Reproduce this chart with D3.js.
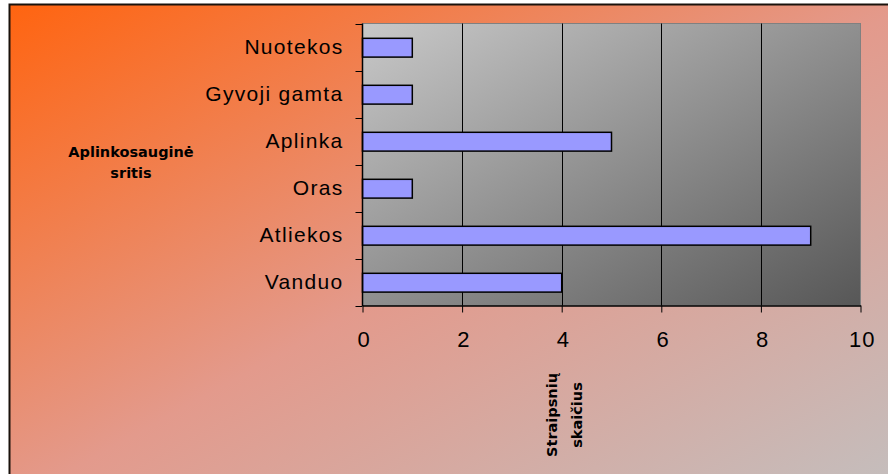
<!DOCTYPE html>
<html>
<head>
<meta charset="utf-8">
<title>Aplinkosauginė sritis</title>
<script src="https://d3js.org/d3.v7.min.js"></script>
<style>
  body { margin: 0; background: #fff; }
  svg { display: block; }
  .cat text { font-family: "Liberation Sans", Arial, sans-serif; font-size: 21px; letter-spacing: 1.3px; fill: #000; }
  .xaxis text { font-family: "Liberation Sans", Arial, sans-serif; font-size: 22px; letter-spacing: 1.2px; fill: #000; }
  .title { font-family: "DejaVu Sans", Verdana, sans-serif; font-size: 14.5px; font-weight: bold; fill: #000; }
</style>
</head>
<body>
<svg id="chart" width="888" height="474"></svg>
<script>
// data
var categories = ["Nuotekos", "Gyvoji gamta", "Aplinka", "Oras", "Atliekos", "Vanduo"];
var values = [1, 1, 5, 1, 9, 4];
var xTicks = [0, 2, 4, 6, 8, 10];
var yTitle = ["Aplinkosauginė", "sritis"];
var xTitle = ["Straipsnių", "skaičius"];

var svg = d3.select("#chart");
var plot = {left: 362.5, right: 860.5, top: 23.5, bottom: 305.5};

var defs = svg.append("defs");
var bg = defs.append("linearGradient").attr("id", "bgGrad")
    .attr("x1", 0).attr("y1", 0).attr("x2", 1).attr("y2", 1);
bg.append("stop").attr("offset", 0).attr("stop-color", "#ff6410");
bg.append("stop").attr("offset", 0.5).attr("stop-color", "#e39a8c");
bg.append("stop").attr("offset", 1).attr("stop-color", "#c2c0c0");

var pg = defs.append("linearGradient").attr("id", "plotGrad")
    .attr("x1", 0).attr("y1", 0).attr("x2", 1).attr("y2", 1);
pg.append("stop").attr("offset", 0).attr("stop-color", "#c8c8c8");
pg.append("stop").attr("offset", 1).attr("stop-color", "#575757");

// chart area with border on top / left
svg.append("rect")
    .attr("x", 9.5).attr("y", 4.5)
    .attr("width", 900).attr("height", 500)
    .attr("fill", "url(#bgGrad)")
    .attr("stroke", "#1a120c").attr("stroke-width", 2);

var x = d3.scaleLinear().domain([0, 10]).range([plot.left, plot.right]);
var y = d3.scaleBand().domain(categories).range([plot.top, plot.bottom]).padding(0);

// plot area
svg.append("rect")
    .attr("x", plot.left).attr("y", plot.top)
    .attr("width", plot.right - plot.left).attr("height", plot.bottom - plot.top)
    .attr("fill", "url(#plotGrad)")
    .attr("stroke", "#808080").attr("stroke-width", 1);

// gridlines
svg.append("g").selectAll("line")
    .data(xTicks.filter(function(d) { return d > 0 && d < 10; }))
    .enter().append("line")
    .attr("x1", function(d) { return Math.round(x(d)) + 0.5; })
    .attr("x2", function(d) { return Math.round(x(d)) + 0.5; })
    .attr("y1", plot.top).attr("y2", plot.bottom)
    .attr("stroke", "#000").attr("stroke-width", 1);

// bars
var bh = y.bandwidth() * 0.4;
svg.append("g").selectAll("rect")
    .data(values)
    .enter().append("rect")
    .attr("x", x(0))
    .attr("y", function(d, i) { return y(categories[i]) + y.bandwidth() * 0.315; })
    .attr("width", function(d) { return x(d) - x(0); })
    .attr("height", bh)
    .attr("fill", "#9999ff")
    .attr("stroke", "#000").attr("stroke-width", 1.5);

// y axis line and boundary ticks
var bounds = categories.map(function(c) { return y(c); }).concat([plot.bottom]);
svg.append("g").selectAll("line")
    .data(bounds)
    .enter().append("line")
    .attr("x1", plot.left - 7).attr("x2", plot.left)
    .attr("y1", function(d) { return Math.round(d) + 0.5; })
    .attr("y2", function(d) { return Math.round(d) + 0.5; })
    .attr("stroke", "#000");
svg.append("line")
    .attr("x1", plot.left).attr("x2", plot.left)
    .attr("y1", plot.top).attr("y2", plot.bottom + 0.5)
    .attr("stroke", "#000").attr("stroke-width", 1.5);

// category labels
var yAxis = svg.append("g").attr("class", "cat")
    .attr("transform", "translate(" + plot.left + ",0)")
    .call(d3.axisLeft(y).tickSize(0).tickPadding(19));
yAxis.select(".domain").remove();

// x axis
var xAxis = svg.append("g").attr("class", "xaxis")
    .attr("transform", "translate(0," + plot.bottom + ")")
    .call(d3.axisBottom(x).tickValues(xTicks).tickSize(7).tickPadding(19).tickSizeOuter(0));
xAxis.select(".domain").attr("stroke", "#000").attr("stroke-width", 1.5);
xAxis.selectAll(".tick line").attr("stroke", "#000");
xAxis.selectAll("text").attr("dx", "0.06em");

// y title
svg.append("text").attr("class", "title")
    .attr("text-anchor", "middle")
    .selectAll("tspan").data(yTitle).enter().append("tspan")
    .attr("x", 131)
    .attr("y", function(d, i) { return 156.7 + i * 21.6; })
    .text(function(d) { return d; });

// x title (rotated)
svg.append("text").attr("class", "title")
    .attr("text-anchor", "middle")
    .attr("transform", "rotate(-90)")
    .selectAll("tspan").data(xTitle).enter().append("tspan")
    .attr("x", -415)
    .attr("y", function(d, i) { return 556.7 + i * 25; })
    .text(function(d) { return d; });
</script>
</body>
</html>
